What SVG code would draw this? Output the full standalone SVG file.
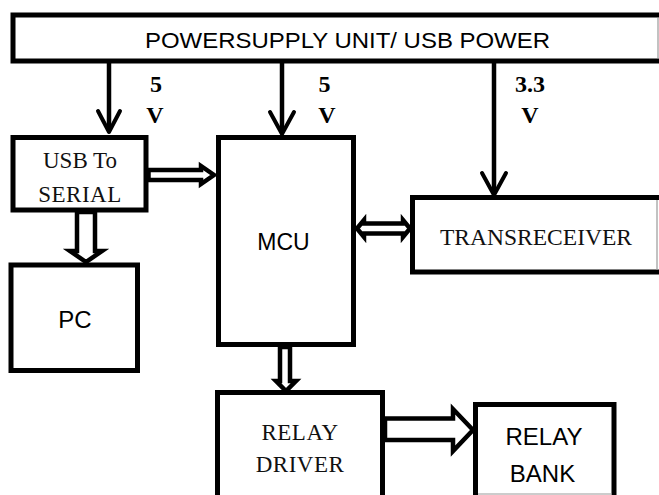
<svg xmlns="http://www.w3.org/2000/svg" width="659" height="495" viewBox="0 0 659 495">
<style>
.box{fill:#fff;stroke:#000;stroke-width:5}
.edge{stroke:#999;stroke-width:1.2;fill:none}
.sans{font-family:"Liberation Sans",Arial,sans-serif;fill:#000}
.serif{font-family:"Liberation Serif","Times New Roman",serif;fill:#111}
.lbl{font-family:"Liberation Serif","Times New Roman",serif;font-weight:bold;font-size:24px;fill:#000;text-anchor:middle}
.wire{stroke:#000;stroke-width:4.5;fill:none}
.vhead{stroke:#000;stroke-width:4;fill:none;stroke-linejoin:round;stroke-linecap:round}
.hollow{fill:#fff;stroke:#000;stroke-width:4.5;stroke-linejoin:miter}
</style>
<rect width="659" height="495" fill="#fff"/>
<g id="psu">
<rect class="box" x="13" y="15" width="680" height="46"/>
<line class="edge" x1="658" y1="18" x2="658" y2="58"/>
<text class="sans" x="145" y="48" font-size="22" textLength="405" lengthAdjust="spacingAndGlyphs">POWERSUPPLY UNIT/ USB POWER</text>
</g>
<g id="usb-serial">
<rect class="box" x="13" y="137.5" width="133" height="72.5"/>
<text class="serif" x="80" y="168" font-size="23" text-anchor="middle">USB To</text>
<text class="serif" x="80" y="202" font-size="23" text-anchor="middle" letter-spacing="0.5">SERIAL</text>
</g>
<g id="pc">
<rect class="box" x="11" y="265" width="126.5" height="105.5"/>
<text class="sans" x="75" y="328" font-size="24" text-anchor="middle">PC</text>
</g>
<g id="mcu">
<rect class="box" x="218.5" y="137.5" width="135" height="207"/>
<text class="sans" x="283.5" y="250" font-size="23" text-anchor="middle">MCU</text>
</g>
<g id="transreceiver">
<rect class="box" x="412.5" y="197.5" width="280" height="74.5"/>
<line class="edge" x1="657" y1="200" x2="657" y2="270"/>
<text class="serif" x="440" y="245" font-size="23" textLength="192" lengthAdjust="spacingAndGlyphs">TRANSRECEIVER</text>
</g>
<g id="relay-driver">
<path class="box" d="M217.5,500 V392.5 H382.5 V500"/>
<text class="serif" x="300" y="440" font-size="23" text-anchor="middle" letter-spacing="0.5">RELAY</text>
<text class="serif" x="300" y="472" font-size="23" text-anchor="middle" letter-spacing="0.5">DRIVER</text>
</g>
<g id="relay-bank">
<path class="box" d="M475.5,500 V404.5 H614 V500"/>
<line class="edge" x1="478" y1="494" x2="612" y2="494"/>
<text class="sans" x="544" y="445" font-size="24" text-anchor="middle">RELAY</text>
<text class="sans" x="542.5" y="482" font-size="24" text-anchor="middle">BANK</text>
</g>
<g id="connectors">
<line class="wire" x1="109" y1="62" x2="109" y2="129"/>
<polyline class="vhead" points="98,111 109,132 120,111"/>
<line class="wire" x1="282" y1="62" x2="282" y2="131"/>
<polyline class="vhead" points="270,112 282,134 294,112"/>
<line class="wire" x1="494" y1="62" x2="494" y2="192"/>
<polyline class="vhead" points="482,173 494,195 506,173"/>
<text class="lbl" x="156" y="92">5</text>
<text class="lbl" x="155" y="123">V</text>
<text class="lbl" x="324.5" y="92">5</text>
<text class="lbl" x="327" y="123">V</text>
<text class="lbl" x="530" y="92">3.3</text>
<text class="lbl" x="530" y="123">V</text>
<path class="hollow" d="M148.5,170 H201 V166 L214,175 L201,184 V180 H148.5 Z"/>
<path class="hollow" d="M77,212 V251 H70 L86,262 L102,251 H95 V212 Z"/>
<path class="hollow" d="M280,347 V381 H276 L286,391 L296,381 H290 V347 Z"/>
<path class="hollow" d="M357,228.5 L364,220 V223.5 H403 V220 L410,228.5 L403,237 V233.5 H364 V237 Z"/>
<path class="hollow" d="M385,418.5 H453 V409 L473,430 L453,451 V440 H385 Z"/>
</g>
</svg>
